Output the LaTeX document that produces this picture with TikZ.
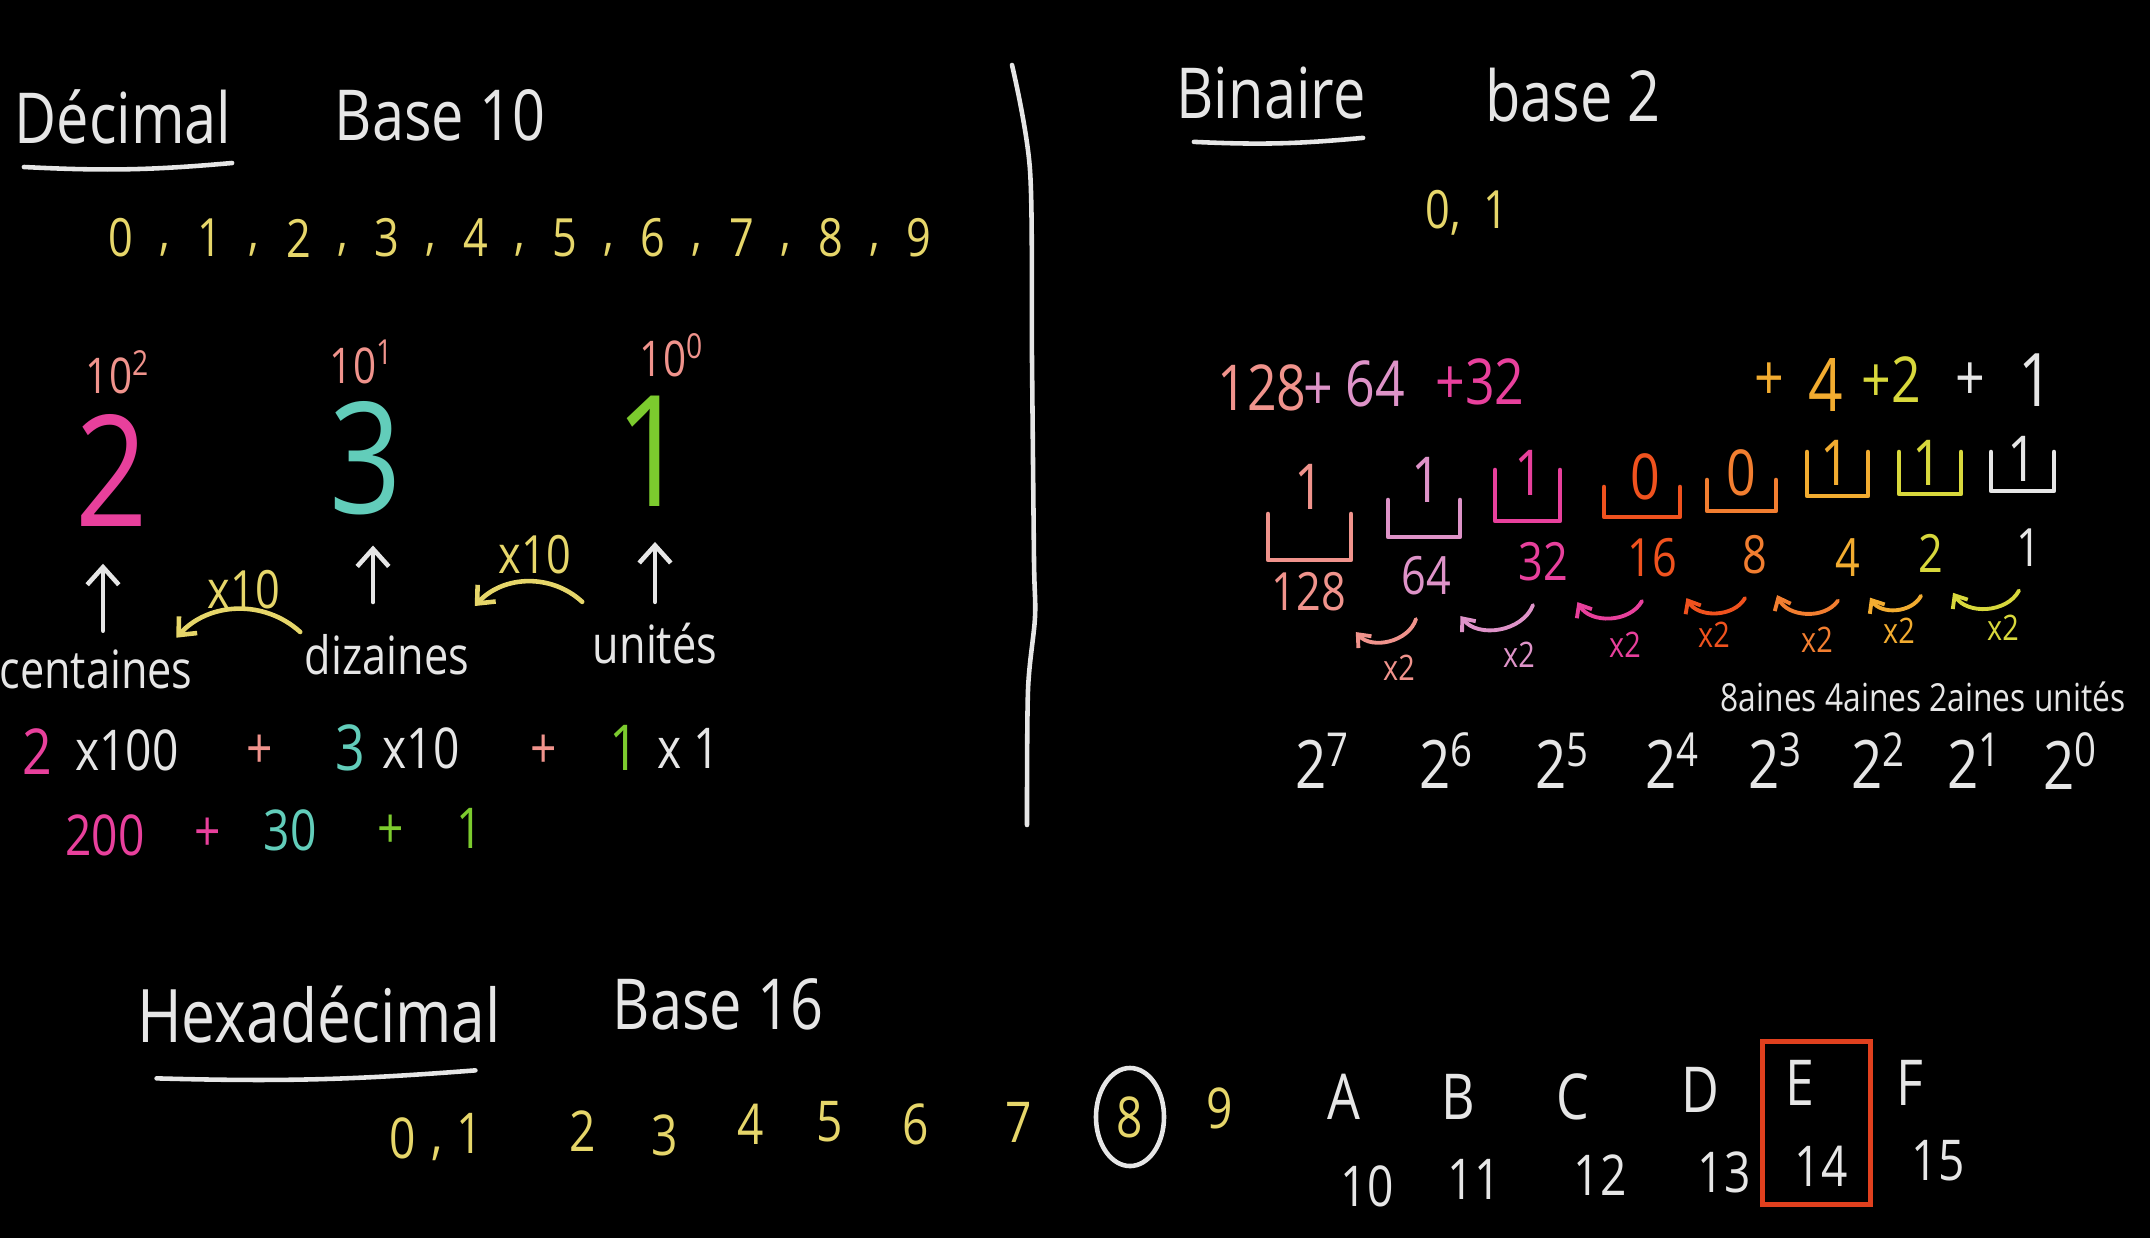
\documentclass[tikz,border=0pt]{standalone}
\usepackage{fontspec}
\setmainfont[FakeStretch=0.82]{Open Sans}
\usetikzlibrary{arrows.meta, calc, fit, shapes.geometric}
\definecolor{chalk}{HTML}{E6E6E6}
\definecolor{ylw}{HTML}{E6D66A}
\definecolor{salm}{HTML}{F0938C}
\definecolor{mag}{HTML}{E8409C}
\definecolor{aqua}{HTML}{62CDBA}
\definecolor{grn}{HTML}{7CCB2E}
\definecolor{lpink}{HTML}{DE93C8}
\definecolor{ored}{HTML}{F0521E}
\definecolor{orng}{HTML}{F27E30}
\definecolor{oyel}{HTML}{F2AC30}
\definecolor{lyel}{HTML}{D8D83C}
\definecolor{boxred}{HTML}{E0401E}
\newcommand\fsz[1]{\fontsize{#1}{#1}\selectfont}
\tikzset{
  ttl/.style={font=\fsz{20}, text=chalk, inner sep=0pt},
  dig/.style={font=\fsz{15}, text=ylw, inner sep=0pt},
  pow/.style={font=\fsz{14}, text=salm, inner sep=0pt},
  big/.style={font=\fsz{44}, text=#1, inner sep=0pt},
  lbl/.style={font=\fsz{15}, text=chalk, inner sep=0pt},
  eq/.style={font=\fsz{16}, text=#1, inner sep=0pt},
  eq/.default=chalk,
  bit/.style={font=\fsz{18}, text=#1, inner sep=0pt},
  val/.style={font=\fsz{15}, text=#1, inner sep=0pt},
  xtw/.style={font=\fsz{10}, text=#1, inner sep=0pt},
  hx/.style={font=\fsz{16}, text=#1, inner sep=0pt},
  chk/.style={draw=#1, line width=1.3pt, line cap=round, line join=round},
  chk/.default=chalk,
  uparr/.style={chk, -{Straight Barb[length=5pt, width=9pt]}},
  bow/.style={chk=ylw, -{Straight Barb[length=4pt, width=7pt]}},
  dbl/.style={draw=#1, line width=1.1pt, line cap=round, -{Straight Barb[length=3pt, width=5pt]}},
}
\begin{document}
\begin{tikzpicture}[x=0.01cm, y=-0.01cm]
    \fill[black] (0,0) rectangle (2150,1238);
    \useasboundingbox (0,0) rectangle (2150,1238);
    % decimal
    \node[ttl] (dec) at (123,117) {Décimal};
    \node[ttl] (b10) at (440,115) {Base 10};
    \draw[chk] ($(dec.south west)+(10,22)$) to[bend right=4] ($(dec.south east)+(0,18)$);
    \foreach \d in {0,...,9} \node[dig] (z\d) at ({121+88.7*\d},238) {\d};
    \foreach \d in {0,...,8} \node[dig] (c\d) at ({165+88.7*\d},250) {,};
    \node[pow] (e2) at (118,372) {10\textsuperscript{2}};
    \node[pow] (e1) at (362,362) {10\textsuperscript{1}};
    \node[pow] (e0) at (672,355) {10\textsuperscript{0}};
    \node[big=mag]  (n2) at (112,470) {2};
    \node[big=aqua] (n3) at (366,458) {3};
    \node[big=grn]  (n1) at (652,451) {1};
    \node[lbl] (cen) at (96,669) {centaines};
    \node[lbl] (diz) at (387,655) {dizaines};
    \node[lbl] (uni) at (655,644) {unités};
    \draw[uparr] ($(cen.north)+(7,-18)$) -- ($(n2.south)+(-9,37)$);
    \draw[uparr] ($(diz.north)+(-14,-32)$) -- ($(n3.south)+(7,30)$);
    \draw[uparr] ($(uni.north)+(0,-21)$) -- ($(n1.south)+(3,35)$);
    \draw[bow] ($(diz.north west)+(-4,-2)$) to[bend right=45] ($(cen.north east)+(-17,-11)$);
    \node[dig] (m1) at (244,590) {x10};
    \draw[bow] ($(uni.north west)+(-10,-21)$) to[bend right=45] ($(diz.north east)+(5,-28)$);
    \node[dig] (m2) at (535,555) {x10};
    % sums
    \node[eq=mag, font=\fsz{18}]  (q1) at (37,752) {2};
    \node[eq]                     (q2) at (127,750) {x100};
    \node[eq=salm]                (q3) at (260,752) {+};
    \node[eq=aqua, font=\fsz{18}] (q4) at (350,748) {3};
    \node[eq]                     (q5) at (421,748) {x10};
    \node[eq=salm]                (q6) at (544,752) {+};
    \node[eq=grn, font=\fsz{18}]  (q7) at (624,748) {1};
    \node[eq]                     (q8) at (689,748) {x 1};
    \node[eq=mag]  (r1) at (105,835) {200};
    \node[eq=mag]  (r2) at (208,835) {+};
    \node[eq=aqua] (r3) at (290,830) {30};
    \node[eq=grn]  (r4) at (391,832) {+};
    \node[eq=grn]  (r5) at (470,828) {1};
    % divider
    \draw[chk] plot[smooth] coordinates {(1012,65) (1030,170) (1032,360) (1034,560) (1035,617) (1028,690) (1027,825)};
    % binary
    \node[ttl] (bin) at (1271,93) {Binaire};
    \node[ttl] (b2) at (1573,95) {base 2};
    \draw[chk] ($(bin.south west)+(18,22)$) to[bend right=4] ($(bin.south east)+(-3,18)$);
    \node[dig] (bb) at (1467,213) {0,\ \ 1};
    \node[val=salm, font=\fsz{18}]  (s1) at (1262,388) {128};
    \node[val=lpink, font=\fsz{18}] (s2) at (1318,392) {+};
    \node[val=lpink, font=\fsz{18}] (s3) at (1375,384) {64};
    \node[val=mag, font=\fsz{18}]   (s4) at (1480,382) {+32};
    \node[val=oyel, font=\fsz{18}]  (s5) at (1769,382) {+};
    \node[val=oyel, font=\fsz{21}]  (s6) at (1826,385) {4};
    \node[val=lyel, font=\fsz{18}]  (s7) at (1891,380) {+2};
    \node[val=chalk, font=\fsz{18}] (s8) at (1970,382) {+};
    \node[val=chalk, font=\fsz{21}] (s9) at (2036,380) {1};
    \node[bit=salm]  (t1) at (1309,487) {1};
    \node[bit=lpink] (t2) at (1426,480) {1};
    \node[bit=mag]   (t3) at (1529,473) {1};
    \node[bit=ored]  (t4) at (1645,477) {0};
    \node[bit=orng]  (t5) at (1741,473) {0};
    \node[bit=oyel]  (t6) at (1835,463) {1};
    \node[bit=lyel]  (t7) at (1927,463) {1};
    \node[bit=chalk] (t8) at (2022,459) {1};
    \foreach \xl/\xr/\yt/\yb/\col in {1268/1351/514/560/salm, 1388/1460/500/537/lpink,
        1495/1560/470/521/mag, 1604/1680/487/517/ored, 1707/1776/480/511/orng,
        1807/1868/452/496/oyel, 1899/1961/452/494/lyel, 1991/2054/452/491/chalk}
      \draw[chk=\col] (\xl,\yt) -- (\xl,\yb) -- (\xr,\yb) -- (\xr,\yt);
    \node[val=salm]  (p1) at (1309,592) {128};
    \node[val=lpink] (p2) at (1426,576) {64};
    \node[val=mag]   (p3) at (1543,562) {32};
    \node[val=ored]  (p4) at (1652,558) {16};
    \node[val=orng]  (p5) at (1755,555) {8};
    \node[val=oyel]  (p6) at (1848,558) {4};
    \node[val=lyel]  (p7) at (1931,553) {2};
    \node[val=chalk] (p8) at (2029,548) {1};
    \foreach \i/\j/\col/\lx/\ly in {1/2/salm/1399/668, 2/3/lpink/1519/655, 3/4/mag/1625/645,
        4/5/ored/1714/635, 5/6/orng/1817/640, 6/7/oyel/1899/631, 7/8/lyel/2003/628} {
      \draw[dbl=\col] ($(p\j.south)+(-10,23)$) to[bend left=60] ($(p\i.south east)+(9,20)$);
      \node[xtw=\col] (k\i) at (\lx,\ly) {x2};
    }
    \node[lbl, font=\fsz{11}] (pl) at (1923,697) {8aines 4aines 2aines unités};
    \foreach \e/\x in {7/1323, 6/1447, 5/1563, 4/1673, 3/1776, 2/1879, 1/1975, 0/2071}
      \node[lbl, font=\fsz{19}] (w\e) at (\x,761) {2\textsuperscript{\e}};
    % hexadecimal
    \node[ttl, font=\fsz{21}] (hex) at (319,1015) {Hexadécimal};
    \node[ttl] (b16) at (718,1004) {Base 16};
    \draw[chk] ($(hex.south west)+(20,34)$) to[bend right=3] ($(hex.south east)+(-26,26)$);
    \foreach \d/\x/\y in {0/403/1138, 1/470/1133, 2/583/1131, 3/665/1135, 4/751/1124, 5/830/1122, 6/916/1124, 7/1019/1122}
      \node[hx=ylw] (h\d) at (\x,\y) {\d};
    \node[hx=ylw] (hc) at (437,1154) {,};
    \node[hx=ylw, draw=chalk, ellipse, line width=1.3pt, minimum width=0.68cm, minimum height=0.98cm] (h8) at (1130,1117) {8};
    \node[hx=ylw] (h9) at (1220,1108) {9};
    \node[hx=chalk, font=\fsz{18}] (hA) at (1344,1097) {A};
    \node[hx=chalk, font=\fsz{18}] (hB) at (1458,1097) {B};
    \node[hx=chalk, font=\fsz{18}] (hC) at (1573,1097) {C};
    \node[hx=chalk, font=\fsz{18}] (hD) at (1700,1090) {D};
    \node[hx=chalk, font=\fsz{18}] (hE) at (1800,1083) {E};
    \node[hx=chalk, font=\fsz{18}] (hF) at (1910,1083) {F};
    \node[hx=chalk] (h10) at (1367,1186) {10};
    \node[hx=chalk] (h11) at (1474,1179) {11};
    \node[hx=chalk] (h12) at (1600,1175) {12};
    \node[hx=chalk] (h13) at (1724,1172) {13};
    \node[hx=chalk] (h14) at (1821,1166) {14};
    \node[hx=chalk] (h15) at (1938,1161) {15};
    \node[draw=boxred, line width=1.4pt, fit=(hE)(h14), inner xsep=0.22cm, inner ysep=0.18cm] (sel) {};
\end{tikzpicture}
\end{document}
